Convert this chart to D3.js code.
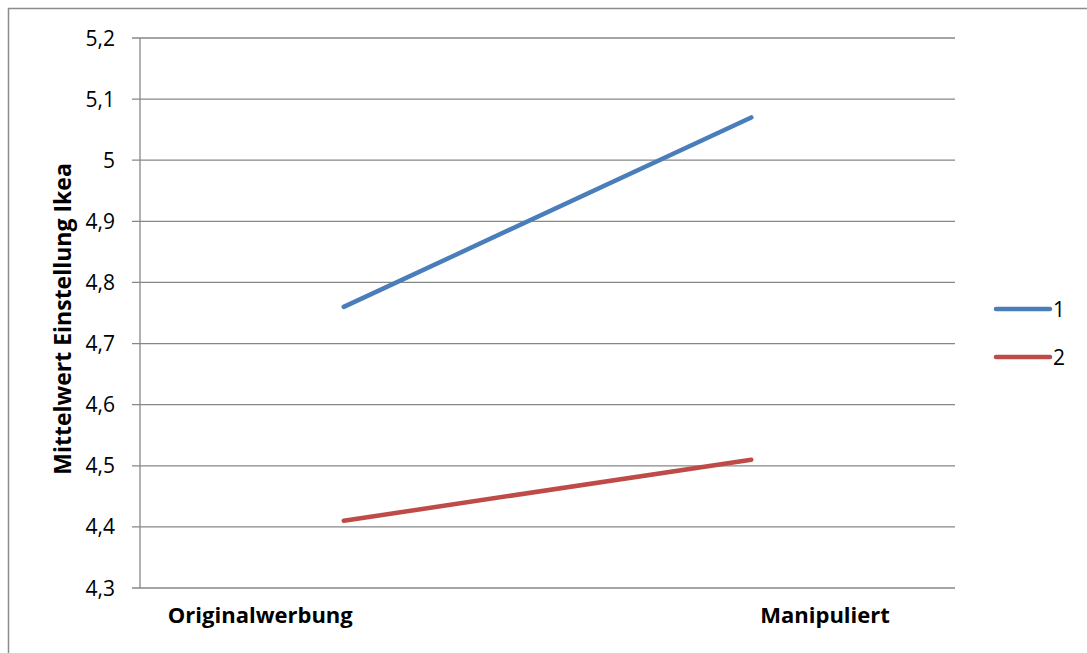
<!DOCTYPE html>
<html>
<head>
<meta charset="utf-8">
<script src="https://cdn.jsdelivr.net/npm/d3@7"></script>
<style>
  body { margin: 0; background: #fff; }
  text { font-family: "Open Sans", sans-serif; }
</style>
</head>
<body>
<svg id="chart" width="1087" height="653"></svg>
<script>
// chart data
let categories = ["Originalwerbung", "Manipuliert"];
let seriesNames = ["1", "2"];
let series1 = [4.76, 5.07];
let series2 = [4.41, 4.51];
let yTicks = [4.3, 4.4, 4.5, 4.6, 4.7, 4.8, 4.9, 5.0, 5.1, 5.2];
let colors = ["#4a7ebb", "#be4b48"];

let svg = d3.select("#chart");

// outer frame
svg.append("rect")
  .attr("x", 8.5).attr("y", 8.5)
  .attr("width", 1090).attr("height", 660)
  .attr("fill", "none")
  .attr("stroke", "#8c8c8c")
  .attr("stroke-width", 1.5);

let plotLeft = 140, plotRight = 955, plotTop = 38, plotBottom = 588;

let x = d3.scaleBand().domain(categories).range([plotLeft, plotRight]);
let y = d3.scaleLinear().domain([4.3, 5.2]).range([plotBottom, plotTop]);

// gridlines
svg.append("g")
  .selectAll("line")
  .data(yTicks)
  .enter().append("line")
  .attr("x1", plotLeft - 8)
  .attr("x2", plotRight)
  .attr("y1", function(d) { return y(d); })
  .attr("y2", function(d) { return y(d); })
  .attr("stroke", "#878787")
  .attr("stroke-width", 1.3);

// y axis line
svg.append("line")
  .attr("x1", plotLeft).attr("x2", plotLeft)
  .attr("y1", plotTop).attr("y2", plotBottom)
  .attr("stroke", "#878787")
  .attr("stroke-width", 1.3);

// y tick labels
svg.append("g")
  .selectAll("text")
  .data(yTicks)
  .enter().append("text")
  .attr("x", 115)
  .attr("y", function(d) { return y(d); })
  .attr("dy", "0.36em")
  .attr("text-anchor", "end")
  .attr("font-size", 21)
  .attr("fill", "#000")
  .text(function(d) { return d3.format(".1f")(d).replace(".", ",").replace(",0", ""); });

// y axis title
svg.append("text")
  .attr("transform", "translate(71,319) rotate(-90)")
  .attr("text-anchor", "middle")
  .attr("font-size", 23)
  .attr("font-weight", "bold")
  .text("Mittelwert Einstellung Ikea");

// category labels
svg.append("g")
  .selectAll("text")
  .data(categories)
  .enter().append("text")
  .attr("x", function(d) { return x(d) + x.bandwidth() / 2 + 9; })
  .attr("y", 623)
  .attr("text-anchor", function(d, i) { return i === 0 ? "end" : "start"; })
  .attr("font-size", 22)
  .attr("font-weight", "bold")
  .text(function(d) { return d; });

// lines
let line = d3.line()
  .x(function(d, i) { return x(categories[i]) + x.bandwidth() / 2; })
  .y(function(d) { return y(d); });

[series1, series2].forEach(function(s, i) {
  svg.append("path")
    .datum(s)
    .attr("d", line)
    .attr("fill", "none")
    .attr("stroke", colors[i])
    .attr("stroke-width", 4.5)
    .attr("stroke-linecap", "round");
});

// legend
let legend = svg.append("g")
  .selectAll("g")
  .data(seriesNames)
  .enter().append("g")
  .attr("transform", function(d, i) { return "translate(996," + (309 + i * 48) + ")"; });

legend.append("line")
  .attr("x1", 0).attr("x2", 54)
  .attr("stroke", function(d, i) { return colors[i]; })
  .attr("stroke-width", 4.5)
  .attr("stroke-linecap", "round");

legend.append("text")
  .attr("x", 57)
  .attr("dy", "0.36em")
  .attr("font-size", 21)
  .text(function(d) { return d; });
</script>
</body>
</html>
